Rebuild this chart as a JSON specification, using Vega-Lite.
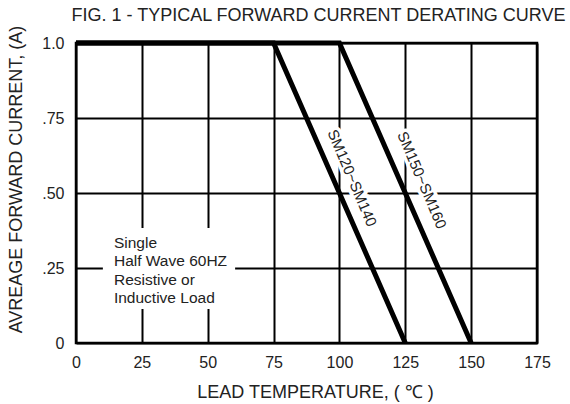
{
  "$schema": "https://vega.github.io/schema/vega-lite/v6.json",
  "width": 461,
  "height": 300,
  "autosize": "none",
  "padding": {"left": 76, "top": 43, "right": 33, "bottom": 61},
  "background": "white",
  "config": {
    "font": "Liberation Sans",
    "view": {"stroke": "black", "strokeWidth": 2.5}
  },
  "title": {
    "text": "FIG. 1 - TYPICAL FORWARD CURRENT DERATING CURVE",
    "fontSize": 18,
    "fontWeight": "normal",
    "color": "#222",
    "anchor": "middle",
    "offset": 9,
    "dx": 12,
    "dy": 9
  },
  "datasets": {
    "curves": [
      {"series": "SM120~SM140", "temp": 0, "current": 1.0},
      {"series": "SM120~SM140", "temp": 75, "current": 1.0},
      {"series": "SM120~SM140", "temp": 125, "current": 0},
      {"series": "SM150~SM160", "temp": 0, "current": 1.0},
      {"series": "SM150~SM160", "temp": 100, "current": 1.0},
      {"series": "SM150~SM160", "temp": 150, "current": 0}
    ],
    "labels": [
      {"label": "SM120~SM140", "temp": 104.8, "current": 0.55},
      {"label": "SM150~SM160", "temp": 131.3, "current": 0.543}
    ],
    "note": [
      {"text": "Single\nHalf Wave 60HZ\nResistive or\nInductive Load", "x1": 10.2, "x2": 60.4, "y1": 0.113, "y2": 0.383, "tx": 14.4, "ty": 0.357}
    ]
  },
  "layer": [
    {
      "data": {"name": "note"},
      "mark": {"type": "rect", "fill": "white"},
      "encoding": {
        "x": {
          "field": "x1", "type": "quantitative",
          "scale": {"domain": [0, 175], "nice": false, "zero": false},
          "axis": {
            "values": [0, 25, 50, 75, 100, 125, 150, 175],
            "grid": true, "gridColor": "black", "gridWidth": 2, "gridOpacity": 1,
            "ticks": false, "domain": false, "labelFlush": false, "labelOverlap": false,
            "labelFontSize": 16, "labelColor": "#222", "labelPadding": 11, "labelDx": 3,
            "title": "LEAD TEMPERATURE, ( ℃ )",
            "titleFontSize": 18, "titleFontWeight": "normal", "titleColor": "#222", "titlePadding": 13,
            "titleX": 239
          }
        },
        "x2": {"field": "x2"},
        "y": {
          "field": "y1", "type": "quantitative",
          "scale": {"domain": [0, 1], "nice": false, "zero": false},
          "axis": {
            "values": [0, 0.25, 0.5, 0.75, 1],
            "labelExpr": "datum.value == 0 ? '0' : datum.value == 1 ? '1.0' : datum.value == 0.25 ? '.25' : datum.value == 0.5 ? '.50' : '.75'",
            "grid": true, "gridColor": "black", "gridWidth": 2, "gridOpacity": 1,
            "ticks": false, "domain": false, "labelFlush": false, "labelOverlap": false,
            "labelFontSize": 16, "labelColor": "#222", "labelPadding": 12,
            "title": "AVREAGE FORWARD CURRENT, (A)",
            "titleFontSize": 18, "titleFontWeight": "normal", "titleColor": "#222",
            "titleX": -51, "titleY": 136
          }
        },
        "y2": {"field": "y2"}
      }
    },
    {
      "data": {"name": "curves"},
      "mark": {"type": "line", "color": "black", "strokeWidth": 5, "strokeJoin": "miter", "clip": false},
      "encoding": {
        "x": {"field": "temp", "type": "quantitative"},
        "y": {"field": "current", "type": "quantitative"},
        "detail": {"field": "series"}
      }
    },
    {
      "data": {"name": "labels"},
      "mark": {"type": "text", "angle": 67, "fontSize": 15, "stroke": "white", "strokeWidth": 7, "fill": "white", "align": "center", "baseline": "middle"},
      "encoding": {
        "x": {"field": "temp", "type": "quantitative"},
        "y": {"field": "current", "type": "quantitative"},
        "text": {"field": "label"}
      }
    },
    {
      "data": {"name": "labels"},
      "mark": {"type": "text", "angle": 67, "fontSize": 15, "color": "#222", "align": "center", "baseline": "middle"},
      "encoding": {
        "x": {"field": "temp", "type": "quantitative"},
        "y": {"field": "current", "type": "quantitative"},
        "text": {"field": "label"}
      }
    },
    {
      "data": {"name": "note"},
      "mark": {"type": "text", "fontSize": 15.5, "color": "#222", "align": "left", "baseline": "top", "lineBreak": "\n", "lineHeight": 18.5},
      "encoding": {
        "x": {"field": "tx", "type": "quantitative"},
        "y": {"field": "ty", "type": "quantitative"},
        "text": {"field": "text"}
      }
    }
  ]
}
